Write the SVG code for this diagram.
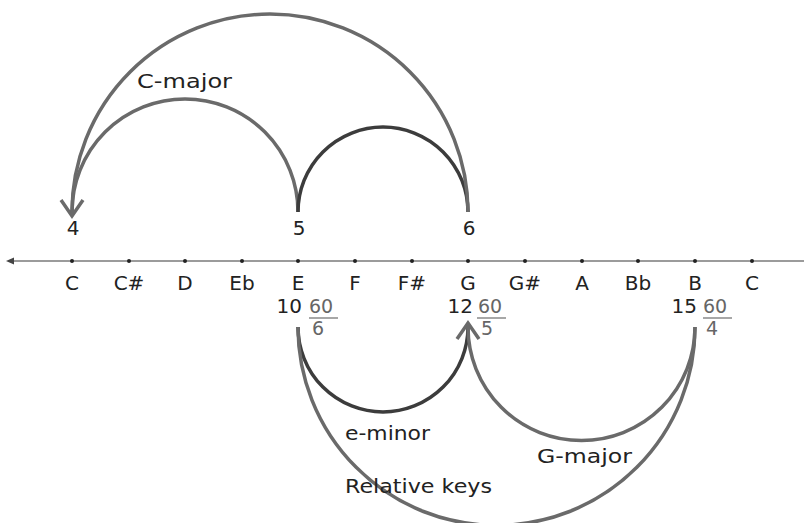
<svg xmlns="http://www.w3.org/2000/svg" width="804" height="523" viewBox="0 0 804 523">
  <style>
    text { font-family: "DejaVu Sans", "Liberation Sans", sans-serif; font-size: 20px; fill: #222; }
    .note { text-anchor: middle; }
    .num { text-anchor: middle; }
    .ratio { text-anchor: end; }
    .frac { fill: #666; font-size: 19px; }
    .arc { fill: none; stroke: #6a6a6a; stroke-width: 3.5; }
    .arc-dark { fill: none; stroke: #3c3c3c; stroke-width: 3.5; }
    .axis { stroke: #7a7a7a; stroke-width: 1.5; }
    .tick { fill: #222; }
    .fline { stroke: #777; stroke-width: 1.3; }
  </style>
  <defs>
    <marker id="chev" markerUnits="userSpaceOnUse" markerWidth="30" markerHeight="30" viewBox="-20 -15 30 30" refX="0" refY="0" orient="auto">
      <path d="M-12,-11 L4,0 L-12,11" fill="none" stroke="#6a6a6a" stroke-width="3.5"/>
      <path d="M-2,0 L4,0" stroke="#6a6a6a" stroke-width="3.5"/>
    </marker>
    <marker id="axisArrow" markerUnits="userSpaceOnUse" markerWidth="10" markerHeight="10" viewBox="0 -5 10 10" refX="2" refY="0" orient="auto">
      <path d="M0,-3.5 L8,0 L0,3.5 Z" fill="#444"/>
    </marker>
  </defs>

  <!-- number line -->
  <g id="axis">
    <line class="axis" x1="804" y1="261" x2="12" y2="261" marker-end="url(#axisArrow)"/>
  </g>

  <g id="notes">
    <g id="n-C"><circle class="tick" cx="72" cy="261" r="2"/><text class="note" x="72" y="290">C</text></g>
    <g id="n-Cs"><circle class="tick" cx="129" cy="261" r="2"/><text class="note" x="129" y="290">C#</text></g>
    <g id="n-D"><circle class="tick" cx="185" cy="261" r="2"/><text class="note" x="185" y="290">D</text></g>
    <g id="n-Eb"><circle class="tick" cx="242" cy="261" r="2"/><text class="note" x="242" y="290">Eb</text></g>
    <g id="n-E"><circle class="tick" cx="298" cy="261" r="2"/><text class="note" x="298" y="290">E</text></g>
    <g id="n-F"><circle class="tick" cx="355" cy="261" r="2"/><text class="note" x="355" y="290">F</text></g>
    <g id="n-Fs"><circle class="tick" cx="412" cy="261" r="2"/><text class="note" x="412" y="290">F#</text></g>
    <g id="n-G"><circle class="tick" cx="468" cy="261" r="2"/><text class="note" x="468" y="290">G</text></g>
    <g id="n-Gs"><circle class="tick" cx="525" cy="261" r="2"/><text class="note" x="525" y="290">G#</text></g>
    <g id="n-A"><circle class="tick" cx="582" cy="261" r="2"/><text class="note" x="582" y="290">A</text></g>
    <g id="n-Bb"><circle class="tick" cx="638" cy="261" r="2"/><text class="note" x="638" y="290">Bb</text></g>
    <g id="n-B"><circle class="tick" cx="695" cy="261" r="2"/><text class="note" x="695" y="290">B</text></g>
    <g id="n-C2"><circle class="tick" cx="752" cy="261" r="2"/><text class="note" x="752" y="290">C</text></g>
  </g>

  <!-- ratio numbers above the line -->
  <g id="r4"><text class="num" x="73" y="235">4</text></g>
  <g id="r5"><text class="num" x="299" y="235">5</text></g>
  <g id="r6"><text class="num" x="469" y="235">6</text></g>

  <!-- reciprocal values below the line -->
  <g id="v10">
    <text class="ratio" x="302" y="313">10</text>
    <text class="frac" x="309" y="313">60</text>
    <line class="fline" x1="309" y1="318" x2="338" y2="318"/>
    <text class="frac" x="312" y="335">6</text>
  </g>
  <g id="v12">
    <text class="ratio" x="473" y="313">12</text>
    <text class="frac" x="478" y="313">60</text>
    <line class="fline" x1="477" y1="318" x2="506" y2="318"/>
    <text class="frac" x="481" y="335">5</text>
  </g>
  <g id="v15">
    <text class="ratio" x="697" y="313">15</text>
    <text class="frac" x="703" y="313">60</text>
    <line class="fline" x1="703" y1="318" x2="732" y2="318"/>
    <text class="frac" x="706" y="335">4</text>
  </g>

  <!-- connectors -->
  <g id="connectors">
    <path class="arc" d="M298,212 A113,113 0 0 0 72,212"/>
    <path class="arc-dark" d="M468,212 A85,85 0 0 0 298,212"/>
    <path class="arc" d="M468,212 A198,198 0 0 0 72,212" marker-end="url(#chev)"/>

    <path class="arc-dark" d="M298,327 A85,85 0 0 0 468,327"/>
    <path class="arc" d="M695,327 A113.5,113.5 0 0 1 468,327" marker-end="url(#chev)"/>
    <path class="arc" d="M298,327 A198.5,198.5 0 0 0 695,327"/>
  </g>

  <!-- arc labels -->
  <g id="labels">
    <text x="137" y="88" textLength="95" lengthAdjust="spacingAndGlyphs">C-major</text>
    <text x="345" y="440" textLength="85" lengthAdjust="spacingAndGlyphs">e-minor</text>
    <text x="537" y="463" textLength="95" lengthAdjust="spacingAndGlyphs">G-major</text>
    <text x="345" y="493" textLength="147" lengthAdjust="spacingAndGlyphs">Relative keys</text>
  </g>
</svg>
